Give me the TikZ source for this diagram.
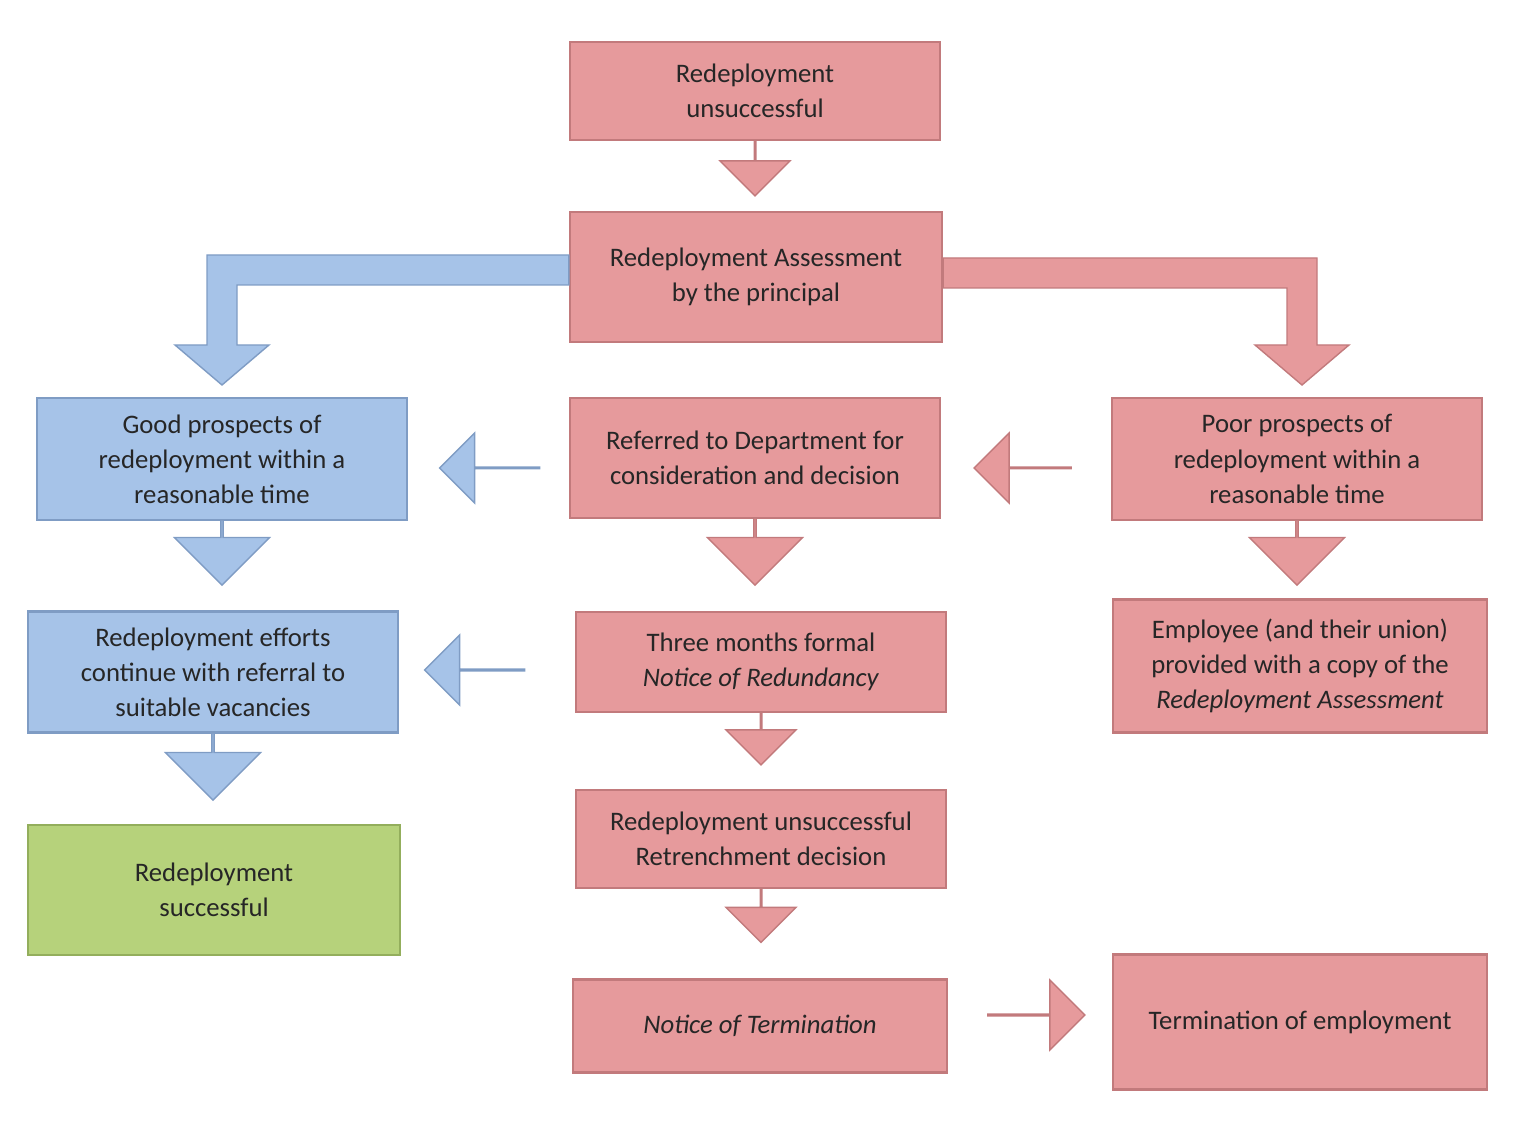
\documentclass[tikz,border=0pt]{standalone}
\usepackage{fontspec}
\setmainfont{Carlito}
\usetikzlibrary{shapes.arrows,positioning}
\definecolor{pinkfill}{HTML}{E69A9C}
\definecolor{pinkline}{HTML}{C27A7C}
\definecolor{bluefill}{HTML}{A6C3E8}
\definecolor{blueline}{HTML}{7F9CC4}
\definecolor{greenfill}{HTML}{B6D27B}
\definecolor{greenline}{HTML}{93AE5C}
\tikzset{
  box/.style={draw=pinkline,fill=pinkfill,line width=0.6pt,align=center,inner sep=2pt,
    font=\fontsize{7.6}{10}\selectfont,text=black!85},
  bluebox/.style={box,draw=blueline,fill=bluefill},
  greenbox/.style={box,draw=greenline,fill=greenfill},
  blk/.style={single arrow,draw=pinkline,fill=pinkfill,inner sep=0pt,
    single arrow head extend=0.3cm,minimum width=0.7cm},
  bluearr/.style={blk,draw=blueline,fill=bluefill},
}
\begin{document}
\begin{tikzpicture}[x=0.01cm,y=-0.01cm]
\useasboundingbox (0,0) rectangle (1536,1137);
% boxes
\node[box,minimum width=3.7cm,minimum height=0.98cm] (unsucc) at (755,91) {Redeployment\\unsuccessful};
\node[box,minimum width=3.72cm,minimum height=1.3cm] (assess) at (756,277) {Redeployment Assessment\\by the principal};
\node[bluebox,minimum width=3.7cm,minimum height=1.22cm] (good) at (222,459) {Good prospects of\\redeployment within a\\reasonable time};
\node[box,minimum width=3.7cm,minimum height=1.2cm] (refer) at (755,458) {Referred to Department for\\consideration and decision};
\node[box,minimum width=3.7cm,minimum height=1.22cm] (poor) at (1297,459) {Poor prospects of\\redeployment within a\\reasonable time};
\node[bluebox,minimum width=3.7cm,minimum height=1.21cm] (effort) at (213,672) {Redeployment efforts\\continue with referral to\\suitable vacancies};
\node[box,minimum width=3.69cm,minimum height=1cm] (notice) at (761,662) {Three months formal\\\textit{Notice of Redundancy}};
\node[box,minimum width=3.74cm,minimum height=1.33cm] (copy) at (1300,666) {Employee (and their union)\\provided with a copy of the\\\textit{Redeployment Assessment}};
\node[greenbox,minimum width=3.72cm,minimum height=1.3cm] (success) at (214,890) {Redeployment\\successful};
\node[box,minimum width=3.69cm,minimum height=0.98cm] (retrench) at (761,839) {Redeployment unsuccessful\\Retrenchment decision};
\node[box,minimum width=3.73cm,minimum height=0.93cm] (term) at (760,1026) {\textit{Notice of Termination}};
\node[box,minimum width=3.74cm,minimum height=1.35cm] (end) at (1300,1022) {Termination of employment};
% block arrows
\node[blk,shape border rotate=270,minimum height=0.55cm] (a1) at (755,168) {};
\node[bluearr,shape border rotate=270,minimum height=0.65cm,minimum width=0.95cm] (a2) at (222,552) {};
\node[blk,shape border rotate=270,minimum height=0.67cm,minimum width=0.95cm] (a3) at (755,551) {};
\node[blk,shape border rotate=270,minimum height=0.65cm,minimum width=0.95cm] (a4) at (1297,552) {};
\node[bluearr,shape border rotate=270,minimum height=0.67cm,minimum width=0.95cm] (a5) at (213,766) {};
\node[blk,shape border rotate=270,minimum height=0.53cm] (a6) at (761,738) {};
\node[blk,shape border rotate=270,minimum height=0.54cm] (a7) at (761,915) {};
\node[bluearr,shape border rotate=180,minimum height=1cm] (a8) at (490,468) {};
\node[bluearr,shape border rotate=180,minimum height=1cm] (a9) at (475,670) {};
\node[blk,shape border rotate=180,minimum height=0.97cm] (a10) at (1023,468) {};
\node[blk,minimum height=0.97cm] (a11) at (1036,1015) {};
% elbow arrows
\fill[bluefill,draw=blueline] (assess.west|-0,255) -- (207,255) -- (207,345) -- (175,345)
  -- (222,385) -- (269,345) -- (237,345) -- (237,285) -- (assess.west|-0,285) -- cycle;
\fill[pinkfill,draw=pinkline] (assess.east|-0,258) -- (1317,258) -- (1317,345) -- (1349,345)
  -- (1302,385) -- (1255,345) -- (1287,345) -- (1287,288) -- (assess.east|-0,288) -- cycle;
\end{tikzpicture}
\end{document}
